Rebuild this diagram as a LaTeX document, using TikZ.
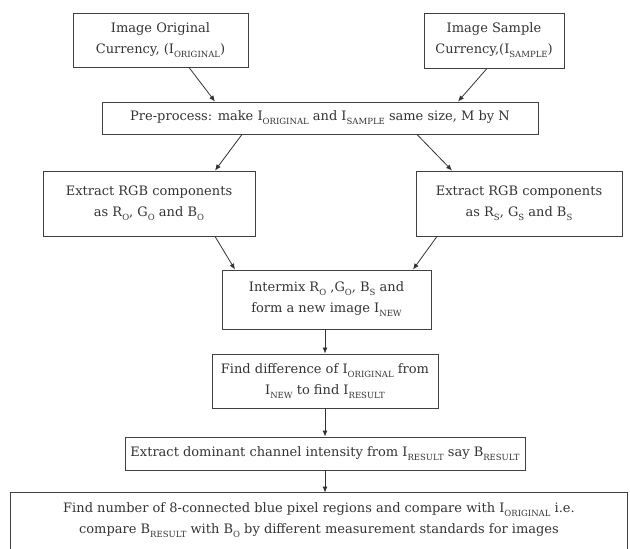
\documentclass[tikz,border=0pt]{standalone}
\usepackage{fontspec}
\setmainfont{DejaVu Serif}
\usetikzlibrary{arrows.meta}
\newcommand\sbs[1]{\raisebox{-0.3em}{\fontsize{8.5}{8.5}\selectfont #1}}
\begin{document}
\begin{tikzpicture}[x=1pt,y=-1pt,
  box/.style={draw=black!75,line width=0.9pt,rectangle,inner sep=0pt,align=center,
    text=black!80,font=\fontsize{13}{21}\selectfont},
  arr/.style={draw=black!80,line width=0.8pt,-{Latex[length=6pt,width=5pt]}}]
\useasboundingbox (0,0) rectangle (630,549);
\node[box,minimum width=175pt,minimum height=54pt] (b1) at (160.5,40) {Image Original\\Currency, (I\sbs{ORIGINAL})};
\node[box,minimum width=140pt,minimum height=55pt] (b2) at (494,40.5) {Image Sample\\Currency,(I\sbs{SAMPLE})};
\node[box,minimum width=436pt,minimum height=32pt] (b3) at (320,118) {Pre-process: make I\sbs{ORIGINAL} and I\sbs{SAMPLE} same size, M by N};
\node[box,minimum width=212pt,minimum height=65pt] (b4) at (149,203.5) {Extract RGB components\\as R\sbs{O}, G\sbs{O} and B\sbs{O}};
\node[box,minimum width=206pt,minimum height=65pt] (b5) at (519,203.5) {Extract RGB components\\as R\sbs{S}, G\sbs{S} and B\sbs{S}};
\node[box,minimum width=209pt,minimum height=59pt] (b6) at (326.5,299.5) {Intermix R\sbs{O} ,G\sbs{O}, B\sbs{S} and\\form a new image I\sbs{NEW}};
\node[box,minimum width=226pt,minimum height=54pt] (b7) at (325,381) {Find difference of I\sbs{ORIGINAL} from\\I\sbs{NEW} to find I\sbs{RESULT}};
\node[box,minimum width=400pt,minimum height=33pt] (b8) at (325,453.5) {Extract dominant channel intensity from I\sbs{RESULT} say B\sbs{RESULT}};
\node[box,draw=none,minimum width=616pt,minimum height=54pt] (b9) at (319,520) {Find number of 8-connected blue pixel regions and compare with I\sbs{ORIGINAL} i.e.\\compare B\sbs{RESULT} with B\sbs{O} by different measurement standards for images};
\draw[draw=black!75,line width=0.9pt] ([yshift=-20pt]b9.south west) -- (b9.north west) -- (b9.north east) -- ([yshift=-20pt]b9.south east);
\draw[arr] ([xshift=28.5pt]b1.south) -- ([xshift=-105pt]b3.north);
\draw[arr] ([xshift=-7pt]b2.south) -- ([xshift=138pt]b3.north);
\draw[arr] ([xshift=-78pt]b3.south) -- ([xshift=66pt]b4.north);
\draw[arr] ([xshift=97pt]b3.south) -- ([xshift=-67pt]b5.north);
\draw[arr] ([xshift=66pt]b4.south) -- ([xshift=-91.5pt]b6.north);
\draw[arr] ([xshift=-82pt]b5.south) -- ([xshift=86.5pt]b6.north);
\draw[arr] ([xshift=-1.5pt]b6.south) -- (b7.north);
\draw[arr] (b7.south) -- (b8.north);
\draw[arr] (b8.south) -- ([xshift=6pt]b9.north);
\end{tikzpicture}
\end{document}
